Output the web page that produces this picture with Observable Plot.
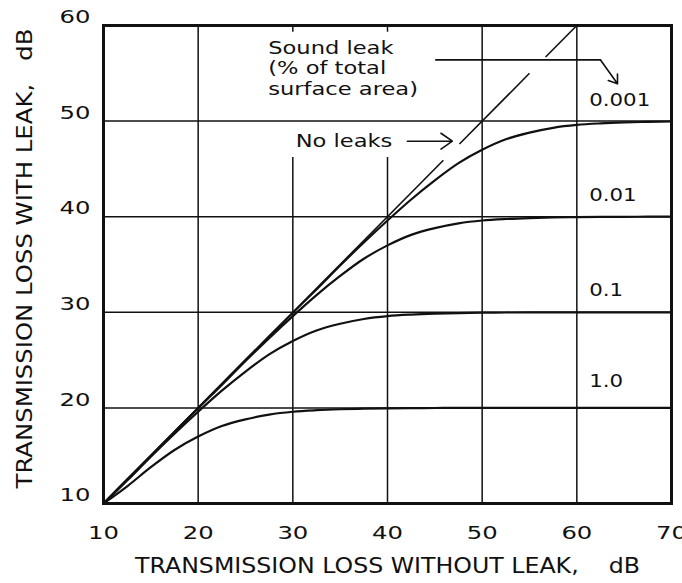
<!DOCTYPE html>
<html><head><meta charset="utf-8">
<script src="https://cdn.jsdelivr.net/npm/d3@7"></script>
<script src="https://cdn.jsdelivr.net/npm/@observablehq/plot@0.6"></script>
<style>
html,body{margin:0;padding:0;background:#fff;}
svg text{font-family:"DejaVu Sans",sans-serif;}
</style></head><body><div id="chart"></div>
<script>
// ---- data ----
const xTicks = [10, 20, 30, 40, 50, 60, 70];
const yTicks = [10, 20, 30, 40, 50, 60];
const xGridFull = [20, 50, 60];
const xGridSplit = [30, 40];
const splitUpper = [60, 59.3];
const splitLower = [46.2, 10];
const yGrid = [20, 30, 40, 50];

const tlWithout = [10, 12.5, 15, 17.5, 20, 22.5, 25, 27.5, 30, 32.5, 35, 37.5, 40, 42.5, 45, 47.5, 50, 52.5, 55, 57.5, 60, 62.5, 65, 67.5, 70];
const leak1_0   = [10, 11.8, 13.8, 15.6, 17.0, 18.1, 18.8, 19.3, 19.6, 19.76, 19.86, 19.92, 19.96, 19.98, 19.99, 20, 20, 20, 20, 20, 20, 20, 20, 20, 20];
const leak0_1   = [10, 12.4, 14.9, 17.3, 19.6, 21.8, 23.8, 25.6, 27.0, 28.1, 28.8, 29.3, 29.6, 29.76, 29.86, 29.92, 29.96, 29.98, 29.99, 30, 30, 30, 30, 30, 30];
const leak0_01  = [10, 12.5, 15, 17.45, 19.96, 22.4, 24.9, 27.3, 29.6, 31.8, 33.8, 35.6, 37.0, 38.1, 38.8, 39.3, 39.6, 39.76, 39.86, 39.92, 39.96, 39.98, 39.99, 40, 40];
const leak0_001 = [10, 12.5, 15, 17.5, 20, 22.5, 25, 27.48, 29.96, 32.4, 34.9, 37.3, 39.6, 41.8, 43.8, 45.6, 47.0, 48.1, 48.8, 49.3, 49.6, 49.76, 49.86, 49.92, 49.96];

const noLeakFrom = [10, 47.6, 56.7];
const noLeakTo   = [45.9, 55.0, 60];

const leakLabels = ["0.001", "0.01", "0.1", "1.0"];
const leakLabelY = [52.2, 42.2, 32.3, 22.8];
const leakLabelX = 61.3;

const noteLines = ["Sound leak", "(% of total", "surface area)"];
const noteY = [57.6, 55.5, 53.4];
const noteX = 27.4;
const leaderX = [45.1, 62.5, 64.3];
const leaderY = [56.4, 56.4, 53.9];

const noLeaksLabel = "No leaks";
const noLeaksXY = [30.3, 47.9];
const noLeaksArrowX = [42.1, 46.85];

const xTitle = "TRANSMISSION LOSS WITHOUT LEAK,\u00a0\u00a0\u00a0\u00a0dB";
const yTitle = "TRANSMISSION LOSS WITH LEAK,\u00a0\u00a0\u00a0dB";

// ---- build ----
const series = [
  {name: "1.0", values: leak1_0},
  {name: "0.1", values: leak0_1},
  {name: "0.01", values: leak0_01},
  {name: "0.001", values: leak0_001}
];
const rows = series.flatMap(s => s.values.map((v, i) => ({x: tlWithout[i], y: v, s: s.name})));
const segIdx = noLeakFrom.map((_, i) => i);
const ink = "#111";

const chart = Plot.plot({
  width: 682, height: 583,
  marginLeft: 103, marginRight: 11, marginTop: 25, marginBottom: 80,
  style: {background: "#fff", color: ink, fontFamily: "DejaVu Sans, sans-serif"},
  x: {domain: [10, 70]},
  y: {domain: [10, 60]},
  marks: [
    Plot.ruleX(xGridFull, {stroke: ink, strokeWidth: 1.5}),
    Plot.ruleX(xGridSplit, {y1: splitUpper[0], y2: splitUpper[1], stroke: ink, strokeWidth: 1.5}),
    Plot.ruleX(xGridSplit, {y1: splitLower[0], y2: splitLower[1], stroke: ink, strokeWidth: 1.5}),
    Plot.ruleY(yGrid, {stroke: ink, strokeWidth: 1.5}),
    Plot.link(segIdx, {x1: i => noLeakFrom[i], y1: i => noLeakFrom[i], x2: i => noLeakTo[i], y2: i => noLeakTo[i], stroke: ink, strokeWidth: 1.6}),
    Plot.line(rows, {x: "x", y: "y", z: "s", curve: "monotone-x", stroke: ink, strokeWidth: 2.2}),
    Plot.line([0, 1], {x: i => leaderX[i], y: i => leaderY[i], stroke: ink, strokeWidth: 1.6}),
    Plot.arrow([0], {x1: leaderX[1], y1: leaderY[1], x2: leaderX[2], y2: leaderY[2], bend: 0, headLength: 13, headAngle: 70, stroke: ink, strokeWidth: 1.6}),
    Plot.arrow([0], {x1: noLeaksArrowX[0], y1: noLeaksXY[1], x2: noLeaksArrowX[1], y2: noLeaksXY[1], bend: 0, headLength: 13, headAngle: 70, stroke: ink, strokeWidth: 1.6}),
    Plot.text(noteLines, {x: noteX, y: (d, i) => noteY[i], text: d => d, textAnchor: "start", fontSize: 18.5, fill: ink}),
    Plot.text([noLeaksLabel], {x: noLeaksXY[0], y: noLeaksXY[1], text: d => d, textAnchor: "start", fontSize: 18.5, fill: ink}),
    Plot.text(leakLabels, {x: leakLabelX, y: (d, i) => leakLabelY[i], text: d => d, textAnchor: "start", fontSize: 17.5, fill: ink}),
    Plot.frame({stroke: ink, strokeWidth: 3}),
    Plot.axisX(xTicks, {tickSize: 0, tickPadding: 23, fontSize: 18, label: null, fill: ink}),
    Plot.axisY(yTicks, {tickSize: 0, tickPadding: 13, dy: -8, fontSize: 18, label: null, fill: ink}),
    Plot.text([xTitle], {frameAnchor: "bottom", dy: 69, fontSize: 22, textAnchor: "middle", text: d => d, fill: ink}),
    Plot.text([yTitle], {frameAnchor: "left", dx: -78, dy: -6, rotate: -90, textAnchor: "middle", fontSize: 21.5, text: d => d, fill: ink})
  ]
});
document.getElementById("chart").appendChild(chart);

// widen the lettering (hand-drawn style is wide)
const stretchBySize = {"18.5": 1.22, "17.5": 1.22, "18": 1.35};
const fixedBySize = {"22": 505, "21.5": 460};
chart.querySelectorAll("text").forEach(t => {
  const g = t.closest("[font-size]");
  if (!g) return;
  const fs = g.getAttribute("font-size");
  let L = null;
  if (fixedBySize[fs] != null) L = fixedBySize[fs];
  else if (stretchBySize[fs] != null) L = t.getComputedTextLength() * stretchBySize[fs];
  if (L) { t.setAttribute("textLength", L); t.setAttribute("lengthAdjust", "spacingAndGlyphs"); }
});
</script></body></html>
